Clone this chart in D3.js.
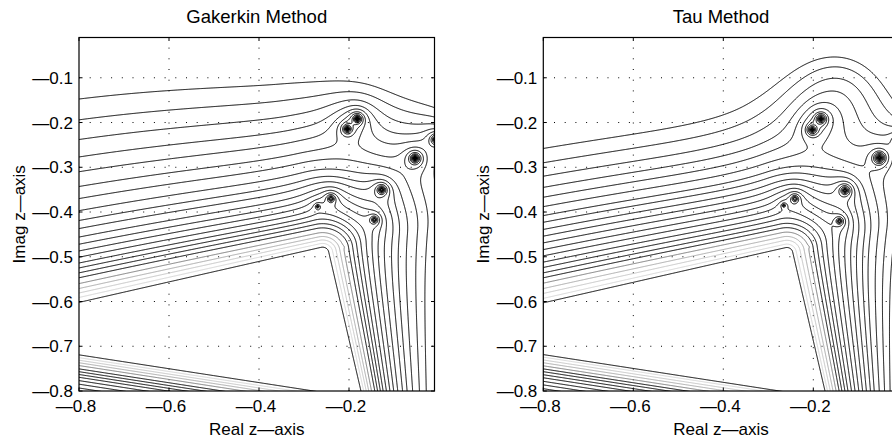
<!DOCTYPE html>
<html>
<head>
<meta charset="utf-8">
<script src="https://cdn.jsdelivr.net/npm/d3@7"></script>
<style>
  body { margin: 0; background: #fff; }
  svg { display: block; font-family: "Liberation Sans", Arial, Helvetica, sans-serif; }
</style>
</head>
<body>
<svg id="chart" width="892" height="439"></svg>
<script>
/**
 * Values
 */
var xTicks = [-0.8, -0.6, -0.4, -0.2];
var yTicks = [-0.8, -0.7, -0.6, -0.5, -0.4, -0.3, -0.2, -0.1];
var axisRange = [-0.8, -0.01];
var panelTitles = ["Gakerkin Method", "Tau Method"];

// where each contour crosses the left edge (Real z = -0.8), top to bottom
var galerkinLeftY = [-0.1475, -0.194, -0.238, -0.277, -0.310, -0.343, -0.370, -0.397,
  -0.419, -0.437, -0.456, -0.472, -0.487, -0.501, -0.514, -0.525, -0.536, -0.547,
  -0.560, -0.571, -0.581, -0.591, -0.602];
var tauLeftY = [-0.258, -0.290, -0.320, -0.345, -0.367, -0.388, -0.408, -0.423,
  -0.439, -0.454, -0.469, -0.484, -0.498, -0.512, -0.524, -0.536, -0.547, -0.559,
  -0.571, -0.582, -0.593, -0.603];

// discrete eigenvalues (the small closed loops) and their strength
var galerkinEigRe = [-0.1816, -0.2037, -0.0533, -0.006, -0.1274, -0.1437, -0.240, -0.2696, -0.2126];
var galerkinEigIm = [-0.192, -0.2144, -0.280, -0.238, -0.3504, -0.4173, -0.3704, -0.3876, -0.4783];
var galerkinEigW  = [0.020, 0.018, 0.025, 0.020, 0.028, 0.026, 0.030, 0.012, 0.003];

var tauEigRe = [-0.1831, -0.2022, -0.053, -0.006, -0.1296, -0.142, -0.241, -0.2655, -0.211];
var tauEigIm = [-0.192, -0.216, -0.279, -0.240, -0.352, -0.4204, -0.3704, -0.3854, -0.478];
var tauEigW  = [0.020, 0.018, 0.025, 0.020, 0.028, 0.026, 0.030, 0.012, 0.003];

// broad hump of the tau resolvent (spurious modes), centre and strength
var tauHumpRe = [-0.14];
var tauHumpIm = [-0.13];
var tauHumpW  = [0.027];

// stroke of the levels, counted from the innermost one
var levelGrays = ["#000000", "#d4d4d4", "#c4c4c4", "#a8a8a8", "#7a7a7a"];

/**
 * Layout
 */
var width = 892, height = 439;
var plotTop = 37.5, plotBottom = 391, plotWidth = 355.5;
var panelLefts = [79, 543.3];

var svg = d3.select("#chart");

// background shape: the wedge where the resolvent is off the scale
var P = 2, ROUND = 0.015, HUMP_SOFT = 0.13, EIG_RANGE = 0.1;
function edgeTop(x) { return -0.605 + 0.23 * (x + 0.8); }
function edgeRight(y) { return -0.245 + 0.233 * (-0.5 - y); }
function edgeBottom(x) { return -0.7175 - 0.155 * (x + 0.8); }

function background(x, y) {
  var dx = x + 0.8;
  var fa = (y - edgeTop(x)) / (1 - 0.238 * dx - 0.323 * dx * dx);
  var fb = (x - edgeRight(y)) / (0.56 + 0.8 * (y + 0.8));
  var fc = (edgeBottom(x) - y) / 0.57;
  fa = Math.max(0, fa + ROUND);
  fb = Math.max(0, fb + ROUND);
  fc = Math.max(0, fc + ROUND);
  return Math.pow(Math.pow(fa, P) + Math.pow(fb, P) + Math.pow(fc, P), 1 / P) - ROUND;
}

function makeField(re, im, w, hre, him, hw) {
  var n = re.length, m = hre.length;
  return function(x, y) {
    var r = 1 / Math.max(background(x, y), 1e-9);
    for (var k = 0; k < n; k++) {
      var d = Math.max(Math.hypot(x - re[k], y - im[k]), 1e-9);
      r += w[k] * Math.exp(-d / EIG_RANGE) / d;
    }
    for (var q = 0; q < m; q++) {
      var ex = x - hre[q], ey = y - him[q];
      r += hw[q] / (ex * ex + ey * ey + HUMP_SOFT * HUMP_SOFT);
    }
    return 1 / r;
  };
}

var panels = [
  {
    title: panelTitles[0],
    leftY: galerkinLeftY,
    field: makeField(galerkinEigRe, galerkinEigIm, galerkinEigW, [], [], [])
  },
  {
    title: panelTitles[1],
    leftY: tauLeftY,
    field: makeField(tauEigRe, tauEigIm, tauEigW, tauHumpRe, tauHumpIm, tauHumpW)
  }
];

panels.forEach(function(p, i) { drawPanel(p, panelLefts[i], i); });

function drawPanel(p, left, idx) {
  var x = d3.scaleLinear().domain(axisRange).range([left, left + plotWidth]);
  var y = d3.scaleLinear().domain(axisRange).range([plotBottom, plotTop]);
  var g = svg.append("g");

  var clipId = "clip" + idx;
  svg.append("clipPath").attr("id", clipId)
    .append("rect")
    .attr("x", left).attr("y", plotTop)
    .attr("width", plotWidth).attr("height", plotBottom - plotTop);

  // dotted grid
  var grid = g.append("g")
    .attr("stroke", "#000").attr("stroke-width", 1)
    .attr("stroke-dasharray", "1,9.7").attr("fill", "none");
  xTicks.slice(1).forEach(function(t) {
    grid.append("line").attr("x1", x(t)).attr("x2", x(t))
      .attr("y1", plotBottom).attr("y2", plotTop);
  });
  yTicks.slice(1).forEach(function(t) {
    grid.append("line").attr("x1", left).attr("x2", left + plotWidth)
      .attr("y1", y(t)).attr("y2", y(t));
  });

  // sample the field on a pixel grid
  var step = 0.7, pad = 3;
  var nx = Math.ceil(plotWidth / step) + 2 * pad + 1;
  var ny = Math.ceil((plotBottom - plotTop) / step) + 2 * pad + 1;
  var x0 = left - pad * step, y0 = plotTop - pad * step;
  var values = new Float64Array(nx * ny);
  for (var j = 0; j < ny; j++) {
    var yv = y.invert(y0 + j * step);
    for (var i = 0; i < nx; i++) {
      values[j * nx + i] = p.field(x.invert(x0 + i * step), yv);
    }
  }

  // contour levels: the field value where each line meets the left edge
  var levels = p.leftY.map(function(v) { return p.field(axisRange[0], v); })
    .sort(d3.ascending);

  var contours = d3.contours().size([nx, ny]).thresholds(levels)(values);

  var path = d3.geoPath(d3.geoTransform({
    point: function(gx, gy) {
      this.stream.point(x0 + (gx - 0.5) * step, y0 + (gy - 0.5) * step);
    }
  }));

  g.append("g").attr("clip-path", "url(#" + clipId + ")")
    .selectAll("path")
    .data(contours)
    .join("path")
    .attr("d", path)
    .attr("fill", "none")
    .attr("stroke-width", 1)
    .attr("stroke-linejoin", "round")
    .attr("stroke", function(d, k) { return k < levelGrays.length ? levelGrays[k] : "#000"; });

  // box and inward ticks
  g.append("rect")
    .attr("x", left).attr("y", plotTop)
    .attr("width", plotWidth).attr("height", plotBottom - plotTop)
    .attr("fill", "none").attr("stroke", "#000").attr("stroke-width", 1.2);

  var tl = 3.5;
  var ticks = g.append("g").attr("stroke", "#000").attr("stroke-width", 1);
  xTicks.forEach(function(t) {
    ticks.append("line").attr("x1", x(t)).attr("x2", x(t)).attr("y1", plotBottom).attr("y2", plotBottom - tl);
    ticks.append("line").attr("x1", x(t)).attr("x2", x(t)).attr("y1", plotTop).attr("y2", plotTop + tl);
  });
  yTicks.forEach(function(t) {
    ticks.append("line").attr("x1", left).attr("x2", left + tl).attr("y1", y(t)).attr("y2", y(t));
    ticks.append("line").attr("x1", left + plotWidth).attr("x2", left + plotWidth - tl).attr("y1", y(t)).attr("y2", y(t));
  });

  var fmt = function(t) { return "\u2014" + d3.format(".1f")(Math.abs(t)); };

  g.append("g").selectAll("text")
    .data(xTicks).join("text")
    .attr("x", function(t) { return x(t) - 3; })
    .attr("y", 412)
    .attr("text-anchor", "middle")
    .attr("font-size", 17)
    .text(fmt);

  g.append("g").selectAll("text")
    .data(yTicks).join("text")
    .attr("x", left - 6)
    .attr("y", function(t) { return y(t); })
    .attr("dy", "0.36em")
    .attr("text-anchor", "end")
    .attr("font-size", 17)
    .text(fmt);

  g.append("text")
    .attr("x", left + plotWidth / 2)
    .attr("y", 23.3)
    .attr("text-anchor", "middle")
    .attr("font-size", 18.5)
    .text(p.title);

  g.append("text")
    .attr("x", left + plotWidth / 2)
    .attr("y", 435)
    .attr("text-anchor", "middle")
    .attr("font-size", 17)
    .text("Real z\u2014axis");

  g.append("text")
    .attr("transform", "translate(" + (left - 54.5) + "," + ((plotTop + plotBottom) / 2) + ") rotate(-90)")
    .attr("text-anchor", "middle")
    .attr("font-size", 17)
    .text("Imag z\u2014axis");
}
</script>
</body>
</html>
